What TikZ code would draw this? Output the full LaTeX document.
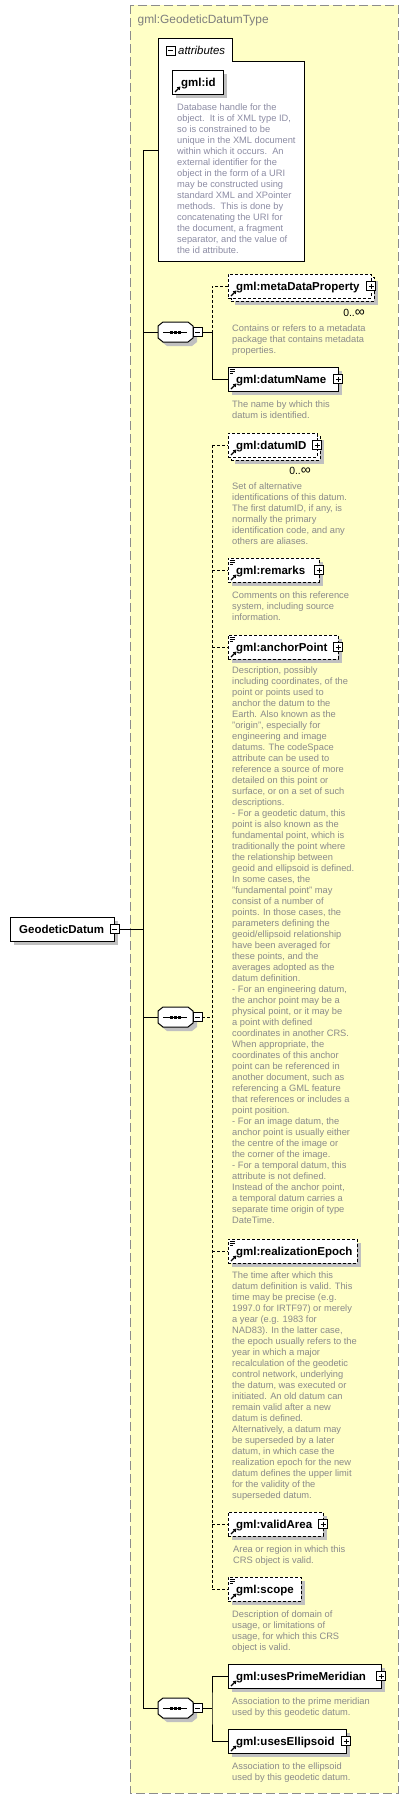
\documentclass[tikz,border=0pt]{standalone}
\usepackage{fontspec}
\setmainfont{Liberation Sans}
\usetikzlibrary{calc,arrows.meta}
\definecolor{bgy}{HTML}{FFFFC6}
\definecolor{shadowc}{HTML}{C0C0C0}
\definecolor{descc}{HTML}{8A8A8A}
\definecolor{attdc}{HTML}{8C8CA4}
\definecolor{framec}{HTML}{8C8C8C}
\newcommand\fl{\rule{0pt}{7.5pt}}
\newcommand\infsym{{\fontsize{14}{14}\selectfont ∞}}
\tikzset{
  ebox/.style={draw, fill=white, line width=1pt, inner sep=0pt, outer sep=0pt,
    anchor=north west, minimum height=24pt,
    preaction={fill=shadowc, transform canvas={shift={(4pt,-4pt)}}}},
  fbox/.style={draw, fill=white, line width=1pt, inner sep=0pt, outer sep=0pt,
    anchor=north west, minimum height=24pt},
  opt/.style={dash pattern=on 3pt off 2pt},
  conn/.style={line width=1pt},
  lbl/.style={font=\fontsize{11.5}{13}\selectfont\bfseries, inner sep=0pt, anchor=base west},
  desc/.style={font=\fontsize{9.3}{11}\selectfont, text=descc, align=left, inner sep=0pt, anchor=north west},
  card/.style={font=\fontsize{10.4}{12}\selectfont, inner sep=0pt, anchor=base east},
  pmbox/.style={draw, fill=white, line width=1pt, minimum size=9pt, inner sep=0pt, outer sep=0pt},
  seqn/.style={minimum width=35pt, minimum height=20pt, inner sep=0pt, outer sep=0pt},
}
\newcommand\plusbox[2]{%
  \node[pmbox] (#1) at (#2) {};
  \draw[line width=1pt] ($(#1.west)+(2,0)$) -- ($(#1.east)+(-2,0)$);
  \draw[line width=1pt] ($(#1.north)+(0,2)$) -- ($(#1.south)+(0,-2)$);}
\newcommand\minusbox[2]{%
  \node[pmbox] (#1) at (#2) {};
  \draw[line width=1pt] ($(#1.west)+(2,0)$) -- ($(#1.east)+(-2,0)$);}
\newcommand\docicon[1]{%
  \draw[line width=0.8pt] ($(#1.north west)+(1.5,2.5)$) -- +(5.5,0)
    ($(#1.north west)+(1.5,4.5)$) -- +(5.5,0)
    ($(#1.north west)+(1.5,6.5)$) -- +(3.5,0);}
\newcommand\refarrow[1]{%
  \draw[line width=1.2pt,-{Triangle[length=3.2pt,width=3.8pt]}]
    ($(#1.south west)+(3,-2)$) -- ($(#1.south west)+(8.5,-7.5)$);}
\newcommand\seqnode[3]{%
  \begin{scope}[shift={(#2,#3)}]
    \fill[shadowc,shift={(4,4)}] (-12.5,-10) -- (12.5,-10) -- (17.5,-6) -- (17.5,6) -- (12.5,10) -- (-12.5,10) -- (-17.5,6) -- (-17.5,-6) -- cycle;
    \filldraw[fill=white,line width=1pt] (-12.5,-10) -- (12.5,-10) -- (17.5,-6) -- (17.5,6) -- (12.5,10) -- (-12.5,10) -- (-17.5,6) -- (-17.5,-6) -- cycle;
    \draw[line width=1pt] (-12.5,0) -- (11.5,0);
    \foreach \dx in {-4,0,4} \fill (\dx-1.5,-1.5) rectangle +(3,3);
  \end{scope}
  \node[seqn] (#1) at (#2,#3) {};}
\begin{document}
\begin{tikzpicture}[x=1pt,y=-1pt]
\useasboundingbox (0,0) rectangle (409,1799);
% outer type frame
\filldraw[fill=bgy, draw=framec, line width=1pt, dash pattern=on 9pt off 4pt] (130,5) rectangle (398,1793);
\node[font=\fontsize{11.9}{14}\selectfont, text=framec!90!black, inner sep=0pt, anchor=base west] (title) at (137.5,23.5) {gml:GeodeticDatumType};

% attributes group
\filldraw[fill=white, line width=1pt] (158,261) -- (158,38) -- (232,38) -- (232,61) -- (304,61) -- (304,261) -- cycle;
\minusbox{attm}{170.5,50.5}
\node[font=\fontsize{11.4}{13}\selectfont\itshape, inner sep=0pt, anchor=base west] (attl) at (178,54.5) {attributes};
\node[ebox, minimum width=51pt] (gid) at (172,70) {};
\node[lbl] (gidl) at (181,86) {gml:id};
\refarrow{gid}
\node[desc, text=attdc] (gidd) at (177,103) {\fl Database handle for the\\object.\ \ It is of XML type ID,\\so is constrained to be\\unique in the XML document\\within which it occurs.\ \ An\\external identifier for the\\object in the form of a URI\\may be constructed using\\standard XML and XPointer\\methods.\ \ This is done by\\concatenating the URI for\\the document, a fragment\\separator, and the value of\\the id attribute.};
\coordinate (attrW) at (158,150);

% root element
\node[ebox, minimum width=104pt] (gd) at (10,917) {};
\node[lbl] (gdl) at (19,933) {GeodeticDatum};
\minusbox{gdm}{114.5,929}

% sequences
\seqnode{s1}{175.5}{332}
\minusbox{s1m}{197.5,332}
\seqnode{s2}{175.5}{1017}
\minusbox{s2m}{197.5,1017}
\seqnode{s3}{175.5}{1708}
\minusbox{s3m}{197.5,1708}
\coordinate (tb) at (143,1708);
\coordinate (j1) at (212,332);
\coordinate (j2) at (212,1017);
\coordinate (j3) at (212,1708);

% trunk connectors
\draw[conn] (attrW) -| (tb) -- (s3.west);
\draw[conn] (gdm.east) -- (gdm.east -| tb);
\draw[conn] (s1.west -| tb) -- (s1.west);
\draw[conn] (s2.west -| tb) -- (s2.west);

% ---- sequence 1
\node[ebox, opt, minimum width=143pt] (mdpb) at (231,277) {};
\node[fbox, opt, minimum width=143pt] (mdp) at (228,274) {};
\node[lbl] (mdpl) at (236,290) {gml:metaDataProperty};
\plusbox{mdpp}{mdp.east}
\refarrow{mdp}
\node[card] (mdpc) at (365,316) {0..\infsym};
\node[desc] (mdpd) at (232,324) {\fl Contains or refers to a metadata\\package that contains metadata\\properties.};

\node[ebox, minimum width=110pt] (dn) at (228,367) {};
\node[lbl] (dnl) at (236,383) {gml:datumName};
\plusbox{dnp}{dn.east}
\docicon{dn}
\refarrow{dn}
\node[desc] (dnd) at (232,400) {\fl The name by which this\\datum is identified.};

\draw[conn] (s1m.east) -- (j1);
\draw[conn, opt] (mdp.west) -| (j1);
\draw[conn] (j1) |- (dn.west);

% ---- sequence 2
\node[ebox, opt, minimum width=89pt] (didb) at (231,436) {};
\node[fbox, opt, minimum width=89pt] (did) at (228,433) {};
\node[lbl] (didl) at (236,449) {gml:datumID};
\plusbox{didp}{did.east}
\refarrow{did}
\node[card] (didc) at (311,474) {0..\infsym};
\node[desc] (didd) at (232,482) {\fl Set of alternative\\identifications of this datum.\\The first datumID, if any, is\\normally the primary\\identification code, and any\\others are aliases.};

\node[ebox, opt, minimum width=91pt] (rem) at (228,558) {};
\node[lbl] (reml) at (236,574) {gml:remarks};
\plusbox{remp}{rem.east}
\docicon{rem}
\refarrow{rem}
\node[desc] (remd) at (232,591) {\fl Comments on this reference\\system, including source\\information.};

\node[ebox, opt, minimum width=110pt] (anc) at (228,635) {};
\node[lbl] (ancl) at (236,651) {gml:anchorPoint};
\plusbox{ancp}{anc.east}
\docicon{anc}
\refarrow{anc}
\node[desc] (ancd) at (232,666) {\fl Description, possibly\\including coordinates, of the\\point or points used to\\anchor the datum to the\\Earth. Also known as the\\"origin", especially for\\engineering and image\\datums. The codeSpace\\attribute can be used to\\reference a source of more\\detailed on this point or\\surface, or on a set of such\\descriptions.\\- For a geodetic datum, this\\point is also known as the\\fundamental point, which is\\traditionally the point where\\the relationship between\\geoid and ellipsoid is defined.\\In some cases, the\\"fundamental point" may\\consist of a number of\\points. In those cases, the\\parameters defining the\\geoid/ellipsoid relationship\\have been averaged for\\these points, and the\\averages adopted as the\\datum definition.\\- For an engineering datum,\\the anchor point may be a\\physical point, or it may be\\a point with defined\\coordinates in another CRS.\\When appropriate, the\\coordinates of this anchor\\point can be referenced in\\another document, such as\\referencing a GML feature\\that references or includes a\\point position.\\- For an image datum, the\\anchor point is usually either\\the centre of the image or\\the corner of the image.\\- For a temporal datum, this\\attribute is not defined.\\Instead of the anchor point,\\a temporal datum carries a\\separate time origin of type\\DateTime.};

\node[ebox, opt, minimum width=129pt] (rea) at (228,1239) {};
\node[lbl] (real) at (236,1255) {gml:realizationEpoch};
\docicon{rea}
\refarrow{rea}
\node[desc] (read) at (232,1271) {\fl The time after which this\\datum definition is valid. This\\time may be precise (e.g.\\1997.0 for IRTF97) or merely\\a year (e.g. 1983 for\\NAD83). In the latter case,\\the epoch usually refers to the\\year in which a major\\recalculation of the geodetic\\control network, underlying\\the datum, was executed or\\initiated. An old datum can\\remain valid after a new\\datum is defined.\\Alternatively, a datum may\\be superseded by a later\\datum, in which case the\\realization epoch for the new\\datum defines the upper limit\\for the validity of the\\superseded datum.};

\node[ebox, opt, minimum width=95pt] (va) at (228,1512) {};
\node[lbl] (val) at (236,1528) {gml:validArea};
\plusbox{vap}{va.east}
\refarrow{va}
\node[desc] (vad) at (233,1545) {\fl Area or region in which this\\CRS object is valid.};

\node[ebox, opt, minimum width=73pt] (sc) at (228,1577) {};
\node[lbl] (scl) at (236,1593) {gml:scope};
\docicon{sc}
\refarrow{sc}
\node[desc] (scd) at (232,1610) {\fl Description of domain of\\usage, or limitations of\\usage, for which this CRS\\object is valid.};

\draw[conn, opt] (s2m.east) -- (j2);
\draw[conn, opt] (did.west -| j2) -- (sc.west -| j2);
\draw[conn, opt] (did.west -| j2) -- (did.west);
\draw[conn, opt] (rem.west -| j2) -- (rem.west);
\draw[conn, opt] (anc.west -| j2) -- (anc.west);
\draw[conn, opt] (rea.west -| j2) -- (rea.west);
\draw[conn, opt] (va.west -| j2) -- (va.west);
\draw[conn, opt] (sc.west -| j2) -- (sc.west);

% ---- sequence 3
\node[ebox, minimum width=153pt] (upm) at (228,1664) {};
\node[lbl] (upml) at (236,1680) {gml:usesPrimeMeridian};
\plusbox{upmp}{upm.east}
\refarrow{upm}
\node[desc] (upmd) at (232,1697) {\fl Association to the prime meridian\\used by this geodetic datum.};

\node[ebox, minimum width=118pt] (ue) at (228,1729) {};
\node[lbl] (uel) at (236,1745) {gml:usesEllipsoid};
\plusbox{uep}{ue.east}
\refarrow{ue}
\node[desc] (ued) at (232,1762) {\fl Association to the ellipsoid\\used by this geodetic datum.};

\draw[conn] (s3m.east) -- (j3);
\draw[conn] (upm.west) -| (j3) |- (ue.west);
\end{tikzpicture}
\end{document}
